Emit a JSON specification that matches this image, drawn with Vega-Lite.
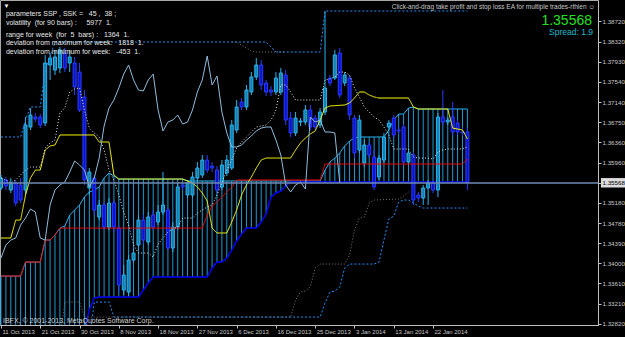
{
"$schema":"https://vega.github.io/schema/vega-lite/v6.json",
"width":598,"height":325,"autosize":"none",
"padding":{"left":0,"top":0,"right":27,"bottom":12},
"background":"#000000",
"config":{"view":{"stroke":"#a8a8a8","strokeWidth":1},"text":{"font":"Liberation Sans"},
 "axis":{"grid":false,"titleFontSize":0,"labelOverlap":false,"labelFont":"Liberation Sans"},
 "scale":{"continuousPadding":0}},
"datasets":{
"bars":[
{"i":0,"o":1.35468,"h":1.35721,"l":1.35429,"c":1.35662,"ct":1.33753,"cb":1.32507,"wd":1.35662,"ch":1.34104},
{"i":1,"o":1.35624,"h":1.35682,"l":1.35429,"c":1.35507,"ct":1.33753,"cb":1.32507,"wd":1.35624,"ch":1.34358},
{"i":2,"o":1.35429,"h":1.35662,"l":1.35371,"c":1.35566,"ct":1.33753,"cb":1.32507,"wd":1.35566,"ch":1.34455},
{"i":3,"o":1.35566,"h":1.35624,"l":1.35117,"c":1.35176,"ct":1.33753,"cb":1.32507,"wd":1.35624,"ch":1.34494},
{"i":4,"o":1.35527,"h":1.35662,"l":1.35176,"c":1.35234,"ct":1.33753,"cb":1.32507,"wd":1.35721,"ch":1.34747},
{"i":5,"o":1.35429,"h":1.36851,"l":1.35332,"c":1.36695,"ct":1.34026,"cb":1.32507,"wd":1.35818,"ch":1.34883},
{"i":6,"o":1.36656,"h":1.37026,"l":1.36598,"c":1.36890,"ct":1.34026,"cb":1.32507,"wd":1.35877,"ch":1.35059},
{"i":7,"o":1.36851,"h":1.36929,"l":1.36753,"c":1.36812,"ct":1.34026,"cb":1.32507,"wd":1.35877,"ch":1.35000},
{"i":8,"o":1.36851,"h":1.36909,"l":1.36636,"c":1.36695,"ct":1.34026,"cb":1.32507,"wd":1.35877,"ch":1.34494},
{"i":9,"o":1.36734,"h":1.38059,"l":1.36675,"c":1.37903,"ct":1.34455,"cb":1.32507,"wd":1.36247,"ch":1.34455},
{"i":10,"o":1.37864,"h":1.38098,"l":1.37572,"c":1.38000,"ct":1.34455,"cb":1.32507,"wd":1.36345,"ch":1.35137},
{"i":11,"o":1.37766,"h":1.38156,"l":1.37669,"c":1.38020,"ct":1.34553,"cb":1.32507,"wd":1.36403,"ch":1.35429},
{"i":12,"o":1.37805,"h":1.38215,"l":1.37708,"c":1.38156,"ct":1.34688,"cb":1.32507,"wd":1.36929,"ch":1.35527},
{"i":13,"o":1.38098,"h":1.38195,"l":1.37727,"c":1.37805,"ct":1.34727,"cb":1.32507,"wd":1.37026,"ch":1.35585},
{"i":14,"o":1.37903,"h":1.38156,"l":1.37727,"c":1.38020,"ct":1.34942,"cb":1.32507,"wd":1.37338,"ch":1.35779},
{"i":15,"o":1.37903,"h":1.38020,"l":1.37280,"c":1.37436,"ct":1.35039,"cb":1.32507,"wd":1.37397,"ch":1.35994},
{"i":16,"o":1.37727,"h":1.37903,"l":1.36948,"c":1.36987,"ct":1.35137,"cb":1.32507,"wd":1.37416,"ch":1.35916},
{"i":17,"o":1.37241,"h":1.37377,"l":1.35527,"c":1.35624,"ct":1.35293,"cb":1.32702,"wd":1.36987,"ch":1.35818},
{"i":18,"o":1.35468,"h":1.35857,"l":1.35332,"c":1.35779,"ct":1.35390,"cb":1.33091,"wd":1.36636,"ch":1.35488},
{"i":19,"o":1.35662,"h":1.35721,"l":1.34942,"c":1.35039,"ct":1.35429,"cb":1.33325,"wd":1.36540,"ch":1.35662},
{"i":20,"o":1.34903,"h":1.35234,"l":1.34844,"c":1.35137,"ct":1.35488,"cb":1.33344,"wd":1.36462,"ch":1.36052},
{"i":21,"o":1.35137,"h":1.35195,"l":1.34650,"c":1.34708,"ct":1.35662,"cb":1.33344,"wd":1.36208,"ch":1.36675},
{"i":22,"o":1.34708,"h":1.35273,"l":1.34650,"c":1.35176,"ct":1.35760,"cb":1.33344,"wd":1.35818,"ch":1.37026},
{"i":23,"o":1.35176,"h":1.35234,"l":1.34611,"c":1.34708,"ct":1.35701,"cb":1.33344,"wd":1.35624,"ch":1.37182},
{"i":24,"o":1.34688,"h":1.34747,"l":1.33442,"c":1.33579,"ct":1.35643,"cb":1.33344,"wd":1.35332,"ch":1.37416},
{"i":25,"o":1.33481,"h":1.33968,"l":1.33384,"c":1.33773,"ct":1.35643,"cb":1.33344,"wd":1.35000,"ch":1.37688},
{"i":26,"o":1.33442,"h":1.34163,"l":1.33364,"c":1.34065,"ct":1.35643,"cb":1.33344,"wd":1.34747,"ch":1.37864},
{"i":27,"o":1.34065,"h":1.34299,"l":1.34007,"c":1.34202,"ct":1.35643,"cb":1.33344,"wd":1.34358,"ch":1.37572},
{"i":28,"o":1.34358,"h":1.34942,"l":1.34260,"c":1.34844,"ct":1.35643,"cb":1.33344,"wd":1.34202,"ch":1.37377},
{"i":29,"o":1.34844,"h":1.34942,"l":1.34377,"c":1.34455,"ct":1.35643,"cb":1.33481,"wd":1.34202,"ch":1.37358},
{"i":30,"o":1.34416,"h":1.35000,"l":1.34358,"c":1.34903,"ct":1.35643,"cb":1.33618,"wd":1.34202,"ch":1.37572},
{"i":31,"o":1.34942,"h":1.35039,"l":1.34650,"c":1.34708,"ct":1.35643,"cb":1.33734,"wd":1.34124,"ch":1.37688},
{"i":32,"o":1.34805,"h":1.35137,"l":1.34747,"c":1.35000,"ct":1.35643,"cb":1.33734,"wd":1.34377,"ch":1.36987},
{"i":33,"o":1.35000,"h":1.35779,"l":1.34942,"c":1.35137,"ct":1.35643,"cb":1.33734,"wd":1.34494,"ch":1.36579},
{"i":34,"o":1.35039,"h":1.35098,"l":1.34260,"c":1.34299,"ct":1.35643,"cb":1.33734,"wd":1.34611,"ch":1.36753},
{"i":35,"o":1.34299,"h":1.34805,"l":1.34221,"c":1.34708,"ct":1.35643,"cb":1.33734,"wd":1.34669,"ch":1.36792},
{"i":36,"o":1.34708,"h":1.35566,"l":1.34650,"c":1.35488,"ct":1.35643,"cb":1.33734,"wd":1.34708,"ch":1.36890},
{"i":37,"o":1.35527,"h":1.35585,"l":1.35429,"c":1.35488,"ct":1.35643,"cb":1.33734,"wd":1.34883,"ch":1.36714},
{"i":38,"o":1.35332,"h":1.35624,"l":1.35273,"c":1.35566,"ct":1.35605,"cb":1.33734,"wd":1.34883,"ch":1.36753},
{"i":39,"o":1.35332,"h":1.35779,"l":1.35273,"c":1.35682,"ct":1.35605,"cb":1.33734,"wd":1.34883,"ch":1.36987},
{"i":40,"o":1.35662,"h":1.35974,"l":1.35585,"c":1.35857,"ct":1.35605,"cb":1.33734,"wd":1.34981,"ch":1.37338},
{"i":41,"o":1.35721,"h":1.36111,"l":1.35662,"c":1.36013,"ct":1.35605,"cb":1.33734,"wd":1.35039,"ch":1.37572},
{"i":42,"o":1.36013,"h":1.36111,"l":1.35760,"c":1.35818,"ct":1.35605,"cb":1.33734,"wd":1.35098,"ch":1.38039},
{"i":43,"o":1.35896,"h":1.35974,"l":1.35779,"c":1.35857,"ct":1.35605,"cb":1.33909,"wd":1.35137,"ch":1.37475},
{"i":44,"o":1.35818,"h":1.35896,"l":1.35371,"c":1.35429,"ct":1.35605,"cb":1.34026,"wd":1.35332,"ch":1.37649},
{"i":45,"o":1.35488,"h":1.36013,"l":1.35429,"c":1.35916,"ct":1.35605,"cb":1.34026,"wd":1.35566,"ch":1.36948},
{"i":46,"o":1.35760,"h":1.36111,"l":1.35701,"c":1.36013,"ct":1.35605,"cb":1.34104,"wd":1.35818,"ch":1.36540},
{"i":47,"o":1.35857,"h":1.36792,"l":1.35818,"c":1.36695,"ct":1.35605,"cb":1.34260,"wd":1.36013,"ch":1.36267},
{"i":48,"o":1.36598,"h":1.37182,"l":1.36540,"c":1.37046,"ct":1.35605,"cb":1.34436,"wd":1.36247,"ch":1.36267},
{"i":49,"o":1.37143,"h":1.37221,"l":1.36987,"c":1.37046,"ct":1.35605,"cb":1.34572,"wd":1.36364,"ch":1.36306},
{"i":50,"o":1.37046,"h":1.37475,"l":1.36987,"c":1.37377,"ct":1.35605,"cb":1.34688,"wd":1.36462,"ch":1.36403},
{"i":51,"o":1.37338,"h":1.37727,"l":1.37280,"c":1.37630,"ct":1.35605,"cb":1.34688,"wd":1.36559,"ch":1.36481},
{"i":52,"o":1.37630,"h":1.38000,"l":1.37572,"c":1.37864,"ct":1.35605,"cb":1.34688,"wd":1.36656,"ch":1.36579},
{"i":53,"o":1.37864,"h":1.37961,"l":1.37377,"c":1.37475,"ct":1.35605,"cb":1.34805,"wd":1.36675,"ch":1.36636},
{"i":54,"o":1.37514,"h":1.37572,"l":1.37260,"c":1.37338,"ct":1.35605,"cb":1.34961,"wd":1.36695,"ch":1.36656},
{"i":55,"o":1.37377,"h":1.37455,"l":1.37260,"c":1.37338,"ct":1.35605,"cb":1.35293,"wd":1.36792,"ch":1.36656},
{"i":56,"o":1.37338,"h":1.37727,"l":1.37280,"c":1.37610,"ct":1.35605,"cb":1.35371,"wd":1.36987,"ch":1.36403},
{"i":57,"o":1.37338,"h":1.37805,"l":1.37280,"c":1.37708,"ct":1.35605,"cb":1.35410,"wd":1.37475,"ch":1.36111},
{"i":58,"o":1.37669,"h":1.37766,"l":1.36695,"c":1.36792,"ct":1.35605,"cb":1.35507,"wd":1.37475,"ch":1.35527},
{"i":59,"o":1.36831,"h":1.36948,"l":1.36462,"c":1.36540,"ct":1.35605,"cb":1.35585,"wd":1.37338,"ch":1.35390},
{"i":60,"o":1.36540,"h":1.36948,"l":1.36481,"c":1.36831,"ct":1.35605,"cb":1.35585,"wd":1.37182,"ch":1.35527},
{"i":61,"o":1.36753,"h":1.36831,"l":1.36675,"c":1.36773,"ct":1.35605,"cb":1.35585,"wd":1.37182,"ch":1.35585},
{"i":62,"o":1.36753,"h":1.37085,"l":1.36695,"c":1.36987,"ct":1.35605,"cb":1.35585,"wd":1.37182,"ch":1.35449},
{"i":63,"o":1.36987,"h":1.37085,"l":1.36598,"c":1.36656,"ct":1.35605,"cb":1.35585,"wd":1.37182,"ch":1.36851},
{"i":64,"o":1.36831,"h":1.36890,"l":1.36598,"c":1.36656,"ct":1.35605,"cb":1.35585,"wd":1.37182,"ch":1.36753},
{"i":65,"o":1.36695,"h":1.37026,"l":1.36636,"c":1.36948,"ct":1.35605,"cb":1.35585,"wd":1.37182,"ch":1.36792},
{"i":66,"o":1.36948,"h":1.38916,"l":1.36890,"c":1.37416,"ct":1.35818,"cb":1.35585,"wd":1.37572,"ch":1.36559},
{"i":67,"o":1.37610,"h":1.37669,"l":1.37455,"c":1.37514,"ct":1.35974,"cb":1.35585,"wd":1.37591,"ch":1.36559},
{"i":68,"o":1.37610,"h":1.38156,"l":1.37572,"c":1.38059,"ct":1.36052,"cb":1.35585,"wd":1.37630,"ch":1.36540},
{"i":69,"o":1.38098,"h":1.38195,"l":1.37221,"c":1.37280,"ct":1.36150,"cb":1.35585,"wd":1.37727,"ch":1.35568},
{"i":70,"o":1.37514,"h":1.37727,"l":1.37455,"c":1.37669,"ct":1.36286,"cb":1.35585,"wd":1.37727},
{"i":71,"o":1.37610,"h":1.37669,"l":1.36792,"c":1.36890,"ct":1.36384,"cb":1.35585,"wd":1.37669},
{"i":72,"o":1.36831,"h":1.36890,"l":1.36052,"c":1.36150,"ct":1.36442,"cb":1.35585,"wd":1.37416},
{"i":73,"o":1.36208,"h":1.36890,"l":1.36150,"c":1.36792,"ct":1.36462,"cb":1.35585,"wd":1.37241},
{"i":74,"o":1.35955,"h":1.36403,"l":1.35877,"c":1.36306,"ct":1.36462,"cb":1.35585,"wd":1.37046},
{"i":75,"o":1.36306,"h":1.36364,"l":1.36052,"c":1.36111,"ct":1.36462,"cb":1.35585,"wd":1.36948},
{"i":76,"o":1.36072,"h":1.36208,"l":1.35429,"c":1.35488,"ct":1.36462,"cb":1.35585,"wd":1.36851},
{"i":77,"o":1.35682,"h":1.36111,"l":1.35624,"c":1.36052,"ct":1.36462,"cb":1.35585,"wd":1.36792},
{"i":78,"o":1.36013,"h":1.36540,"l":1.35955,"c":1.36462,"ct":1.36462,"cb":1.35585,"wd":1.36656},
{"i":79,"o":1.36656,"h":1.36792,"l":1.36598,"c":1.36734,"ct":1.36598,"cb":1.35585,"wd":1.36501},
{"i":80,"o":1.36831,"h":1.36890,"l":1.36442,"c":1.36501,"ct":1.36792,"cb":1.35585,"wd":1.36228},
{"i":81,"o":1.36598,"h":1.36656,"l":1.36520,"c":1.36579,"ct":1.36909,"cb":1.35585,"wd":1.36228},
{"i":82,"o":1.36656,"h":1.36714,"l":1.35916,"c":1.35974,"ct":1.36909,"cb":1.35585,"wd":1.36228},
{"i":83,"o":1.35974,"h":1.36208,"l":1.35916,"c":1.36150,"ct":1.37026,"cb":1.35585,"wd":1.36228},
{"i":84,"o":1.36111,"h":1.36169,"l":1.35137,"c":1.35234,"ct":1.37046,"cb":1.35585,"wd":1.36072},
{"i":85,"o":1.35332,"h":1.35390,"l":1.35195,"c":1.35273,"ct":1.37007,"cb":1.35585,"wd":1.36052},
{"i":86,"o":1.35273,"h":1.35527,"l":1.35137,"c":1.35468,"ct":1.37007,"cb":1.35585,"wd":1.36052},
{"i":87,"o":1.35468,"h":1.35624,"l":1.35137,"c":1.35566,"ct":1.37007,"cb":1.35585,"wd":1.36052},
{"i":88,"o":1.35566,"h":1.35624,"l":1.35371,"c":1.35429,"ct":1.37007,"cb":1.35585,"wd":1.36033},
{"i":89,"o":1.35429,"h":1.36929,"l":1.35293,"c":1.36851,"ct":1.37007,"cb":1.35585,"wd":1.36169},
{"i":90,"o":1.36851,"h":1.37377,"l":1.36695,"c":1.36753,"ct":1.37007,"cb":1.35585,"wd":1.36208},
{"i":91,"o":1.36753,"h":1.36851,"l":1.36695,"c":1.36792,"ct":1.37007,"cb":1.35585,"wd":1.36228},
{"i":92,"o":1.36851,"h":1.37143,"l":1.36501,"c":1.36559,"ct":1.37007,"cb":1.35585,"wd":1.36228},
{"i":93,"o":1.36734,"h":1.36792,"l":1.36501,"c":1.36559,"ct":1.37007,"cb":1.35585,"wd":1.36228},
{"i":94,"o":1.36559,"h":1.36636,"l":1.36481,"c":1.36540,"ct":1.37007,"cb":1.35585,"wd":1.36228},
{"i":95,"o":1.36559,"h":1.36636,"l":1.35429,"c":1.35568,"ct":1.37007,"cb":1.35585,"wd":1.36267}
],
"lines":[
{"s":"lb","i":18,"v":1.32507},{"s":"lb","i":19,"v":1.33247},{"s":"lb","i":22,"v":1.33247},{"s":"lb","i":23,"v":1.32955},{"s":"lb","i":65,"v":1.32955},{"s":"lb","i":66,"v":1.33228},{"s":"lb","i":67,"v":1.33442},{"s":"lb","i":68,"v":1.33462},{"s":"lb","i":69,"v":1.33540},{"s":"lb","i":70,"v":1.33909},{"s":"lb","i":71,"v":1.33987},{"s":"lb","i":76,"v":1.33987},{"s":"lb","i":77,"v":1.34026},{"s":"lb","i":78,"v":1.34455},{"s":"lb","i":79,"v":1.34864},{"s":"lb","i":80,"v":1.34922},{"s":"lb","i":81,"v":1.35195},{"s":"lb","i":82,"v":1.35234},{"s":"lb","i":83,"v":1.35234},{"s":"lb","i":84,"v":1.35176},{"s":"lb","i":85,"v":1.35117},{"s":"lb","i":86,"v":1.35078},{"s":"lb","i":95,"v":1.35078},
{"s":"lg","i":12,"v":1.32507},{"s":"lg","i":13,"v":1.33247},{"s":"lg","i":16,"v":1.33247},{"s":"lg","i":17,"v":1.32955},{"s":"lg","i":59,"v":1.32955},{"s":"lg","i":60,"v":1.33286},{"s":"lg","i":61,"v":1.33442},{"s":"lg","i":62,"v":1.33462},{"s":"lg","i":63,"v":1.33540},{"s":"lg","i":64,"v":1.33909},{"s":"lg","i":65,"v":1.33987},{"s":"lg","i":70,"v":1.33987},{"s":"lg","i":71,"v":1.34163},{"s":"lg","i":72,"v":1.34650},{"s":"lg","i":73,"v":1.34883},{"s":"lg","i":74,"v":1.34903},{"s":"lg","i":75,"v":1.35176},{"s":"lg","i":76,"v":1.35234},{"s":"lg","i":81,"v":1.35254},{"s":"lg","i":82,"v":1.35312},{"s":"lg","i":83,"v":1.35390},
{"s":"ub","i":0,"v":1.36462},{"s":"ub","i":4,"v":1.36462},{"s":"ub","i":5,"v":1.36792},{"s":"ub","i":6,"v":1.37046},{"s":"ub","i":8,"v":1.37046},{"s":"ub","i":9,"v":1.37766},{"s":"ub","i":10,"v":1.38020},{"s":"ub","i":11,"v":1.38312},{"s":"ub","i":54,"v":1.38312},{"s":"ub","i":55,"v":1.38215},{"s":"ub","i":56,"v":1.38117},{"s":"ub","i":65,"v":1.38117},{"s":"ub","i":66,"v":1.38916},{"s":"ub","i":95,"v":1.38916},
{"s":"ug","i":47,"v":1.38312},{"s":"ug","i":48,"v":1.38312},{"s":"ug","i":49,"v":1.38254},{"s":"ug","i":50,"v":1.38195},{"s":"ug","i":51,"v":1.38137},{"s":"ug","i":52,"v":1.38117},{"s":"ug","i":58,"v":1.38117},
{"s":"re","i":0,"v":1.33753},{"s":"re","i":4,"v":1.33753},{"s":"re","i":5,"v":1.34026},{"s":"re","i":8,"v":1.34026},{"s":"re","i":9,"v":1.34455},{"s":"re","i":10,"v":1.34455},{"s":"re","i":11,"v":1.34553},{"s":"re","i":12,"v":1.34688},{"s":"re","i":41,"v":1.34688},{"s":"re","i":42,"v":1.34942},{"s":"re","i":43,"v":1.35117},{"s":"re","i":44,"v":1.35195},{"s":"re","i":45,"v":1.35293},{"s":"re","i":46,"v":1.35390},{"s":"re","i":47,"v":1.35488},{"s":"re","i":48,"v":1.35624},{"s":"re","i":65,"v":1.35624},{"s":"re","i":66,"v":1.35935},{"s":"re","i":94,"v":1.35935},{"s":"re","i":95,"v":1.36033},
{"s":"ye","i":0,"v":1.34494},{"s":"ye","i":2,"v":1.34494},{"s":"ye","i":3,"v":1.34844},{"s":"ye","i":4,"v":1.34844},{"s":"ye","i":5,"v":1.35332},{"s":"ye","i":6,"v":1.35662},{"s":"ye","i":7,"v":1.35818},{"s":"ye","i":8,"v":1.35818},{"s":"ye","i":9,"v":1.36208},{"s":"ye","i":10,"v":1.36286},{"s":"ye","i":11,"v":1.36306},{"s":"ye","i":12,"v":1.36501},{"s":"ye","i":19,"v":1.36501},{"s":"ye","i":20,"v":1.36364},{"s":"ye","i":22,"v":1.36364},{"s":"ye","i":23,"v":1.35721},{"s":"ye","i":24,"v":1.35643},{"s":"ye","i":37,"v":1.35643},{"s":"ye","i":38,"v":1.35605},{"s":"ye","i":39,"v":1.35566},{"s":"ye","i":40,"v":1.35488},{"s":"ye","i":41,"v":1.35371},{"s":"ye","i":42,"v":1.35215},{"s":"ye","i":43,"v":1.34688},{"s":"ye","i":44,"v":1.34592},{"s":"ye","i":46,"v":1.34592},{"s":"ye","i":47,"v":1.34805},{"s":"ye","i":48,"v":1.35039},{"s":"ye","i":49,"v":1.35332},{"s":"ye","i":50,"v":1.35527},{"s":"ye","i":51,"v":1.35682},{"s":"ye","i":52,"v":1.35857},{"s":"ye","i":53,"v":1.36013},{"s":"ye","i":54,"v":1.36052},{"s":"ye","i":59,"v":1.36052},{"s":"ye","i":60,"v":1.36208},{"s":"ye","i":61,"v":1.36345},{"s":"ye","i":62,"v":1.36442},{"s":"ye","i":63,"v":1.36520},{"s":"ye","i":64,"v":1.36579},{"s":"ye","i":65,"v":1.36792},{"s":"ye","i":66,"v":1.37026},{"s":"ye","i":67,"v":1.37065},{"s":"ye","i":70,"v":1.37085},{"s":"ye","i":71,"v":1.37124},{"s":"ye","i":72,"v":1.37221},{"s":"ye","i":73,"v":1.37338},{"s":"ye","i":74,"v":1.37338},{"s":"ye","i":75,"v":1.37280},{"s":"ye","i":76,"v":1.37241},{"s":"ye","i":77,"v":1.37221},{"s":"ye","i":83,"v":1.37221},{"s":"ye","i":84,"v":1.37046},{"s":"ye","i":85,"v":1.37007},{"s":"ye","i":91,"v":1.37007},{"s":"ye","i":92,"v":1.36636},{"s":"ye","i":94,"v":1.36598},{"s":"ye","i":95,"v":1.36423},
{"s":"yo","i":73,"v":1.37338},{"s":"yo","i":74,"v":1.37338},{"s":"yo","i":75,"v":1.37280},{"s":"yo","i":76,"v":1.37241},{"s":"yo","i":77,"v":1.37221},{"s":"yo","i":83,"v":1.37221}
]},
"layer":[
{"data":{"name":"bars"},"mark":{"type":"rule","clip":true,"color":"#1c9ad6","strokeWidth":1},
 "encoding":{
  "x":{"field":"i","type":"quantitative","title":null,"scale":{"domain":[-0.2,121.6],"nice":false,"zero":false,"padding":0},
   "axis":{"orient":"bottom","zindex":1,"title":null,"grid":false,"values":[0,8,16,24,32,40,48,56,64,72,80,88],"labelExpr":"['11 Oct 2013','21 Oct 2013','30 Oct 2013','8 Nov 2013','18 Nov 2013','27 Nov 2013','6 Dec 2013','16 Dec 2013','25 Dec 2013','3 Jan 2014','13 Jan 2014','22 Jan 2014'][round(datum.value/8)]","labelAlign":"left","labelBaseline":"top","labelPadding":0,"labelOffset":1,"tickSize":3,"labelFontSize":6,"labelColor":"#c8c8c8","tickColor":"#c0c0c0","domainColor":"#c0c0c0","labelFlush":false,"labelOverlap":false,"labelBound":false}},
  "y":{"field":"ct","type":"quantitative","title":null,"scale":{"domain":[1.328,1.3913],"nice":false,"zero":false,"padding":0},
   "axis":{"orient":"right","zindex":1,"title":null,"grid":false,"values":[1.3872,1.3832,1.3793,1.3754,1.3714,1.3675,1.3636,1.3596,1.35568,1.3518,1.3478,1.3439,1.34,1.3361,1.3321,1.3282],"format":".5f","labelFontSize":6.2,"labelBaseline":"middle","labelOverlap":false,"labelFlush":false,"labelBound":false,"labelPadding":1,"tickSize":3,"domainColor":"#c0c0c0","tickColor":"#c0c0c0","labelColor":{"condition":{"test":"abs(datum.value-1.35568)<0.000001","value":"#000000"},"value":"#c8c8c8"}}},
  "y2":{"field":"cb"}}},
{"data":{"name":"bars"},"mark":{"type":"line","clip":true,"color":"#2ab4f0","strokeWidth":1},
 "encoding":{
  "x":{"field":"i","type":"quantitative","title":null,"scale":{"domain":[-0.2,121.6],"nice":false,"zero":false,"padding":0},
   "axis":{"orient":"bottom","zindex":1,"title":null,"grid":false,"values":[0,8,16,24,32,40,48,56,64,72,80,88],"labelExpr":"['11 Oct 2013','21 Oct 2013','30 Oct 2013','8 Nov 2013','18 Nov 2013','27 Nov 2013','6 Dec 2013','16 Dec 2013','25 Dec 2013','3 Jan 2014','13 Jan 2014','22 Jan 2014'][round(datum.value/8)]","labelAlign":"left","labelBaseline":"top","labelPadding":0,"labelOffset":1,"tickSize":3,"labelFontSize":6,"labelColor":"#c8c8c8","tickColor":"#c0c0c0","domainColor":"#c0c0c0","labelFlush":false,"labelOverlap":false,"labelBound":false}},
  "y":{"field":"ct","type":"quantitative","title":null,"scale":{"domain":[1.328,1.3913],"nice":false,"zero":false,"padding":0},
   "axis":{"orient":"right","zindex":1,"title":null,"grid":false,"values":[1.3872,1.3832,1.3793,1.3754,1.3714,1.3675,1.3636,1.3596,1.35568,1.3518,1.3478,1.3439,1.34,1.3361,1.3321,1.3282],"format":".5f","labelFontSize":6.2,"labelBaseline":"middle","labelOverlap":false,"labelFlush":false,"labelBound":false,"labelPadding":1,"tickSize":3,"domainColor":"#c0c0c0","tickColor":"#c0c0c0","labelColor":{"condition":{"test":"abs(datum.value-1.35568)<0.000001","value":"#000000"},"value":"#c8c8c8"}}}}},
{"data":{"name":"bars"},"mark":{"type":"line","clip":true,"color":"#0000ff","strokeWidth":1.5},
 "encoding":{
  "x":{"field":"i","type":"quantitative","title":null,"scale":{"domain":[-0.2,121.6],"nice":false,"zero":false,"padding":0},
   "axis":{"orient":"bottom","zindex":1,"title":null,"grid":false,"values":[0,8,16,24,32,40,48,56,64,72,80,88],"labelExpr":"['11 Oct 2013','21 Oct 2013','30 Oct 2013','8 Nov 2013','18 Nov 2013','27 Nov 2013','6 Dec 2013','16 Dec 2013','25 Dec 2013','3 Jan 2014','13 Jan 2014','22 Jan 2014'][round(datum.value/8)]","labelAlign":"left","labelBaseline":"top","labelPadding":0,"labelOffset":1,"tickSize":3,"labelFontSize":6,"labelColor":"#c8c8c8","tickColor":"#c0c0c0","domainColor":"#c0c0c0","labelFlush":false,"labelOverlap":false,"labelBound":false}},
  "y":{"field":"cb","type":"quantitative","title":null,"scale":{"domain":[1.328,1.3913],"nice":false,"zero":false,"padding":0},
   "axis":{"orient":"right","zindex":1,"title":null,"grid":false,"values":[1.3872,1.3832,1.3793,1.3754,1.3714,1.3675,1.3636,1.3596,1.35568,1.3518,1.3478,1.3439,1.34,1.3361,1.3321,1.3282],"format":".5f","labelFontSize":6.2,"labelBaseline":"middle","labelOverlap":false,"labelFlush":false,"labelBound":false,"labelPadding":1,"tickSize":3,"domainColor":"#c0c0c0","tickColor":"#c0c0c0","labelColor":{"condition":{"test":"abs(datum.value-1.35568)<0.000001","value":"#000000"},"value":"#c8c8c8"}}}}},
{"data":{"name":"bars"},"mark":{"type":"rule","clip":true,"strokeWidth":1},
 "encoding":{
  "x":{"field":"i","type":"quantitative","title":null,"scale":{"domain":[-0.2,121.6],"nice":false,"zero":false,"padding":0},
   "axis":{"orient":"bottom","zindex":1,"title":null,"grid":false,"values":[0,8,16,24,32,40,48,56,64,72,80,88],"labelExpr":"['11 Oct 2013','21 Oct 2013','30 Oct 2013','8 Nov 2013','18 Nov 2013','27 Nov 2013','6 Dec 2013','16 Dec 2013','25 Dec 2013','3 Jan 2014','13 Jan 2014','22 Jan 2014'][round(datum.value/8)]","labelAlign":"left","labelBaseline":"top","labelPadding":0,"labelOffset":1,"tickSize":3,"labelFontSize":6,"labelColor":"#c8c8c8","tickColor":"#c0c0c0","domainColor":"#c0c0c0","labelFlush":false,"labelOverlap":false,"labelBound":false}},
  "y":{"field":"l","type":"quantitative","title":null,"scale":{"domain":[1.328,1.3913],"nice":false,"zero":false,"padding":0},
   "axis":{"orient":"right","zindex":1,"title":null,"grid":false,"values":[1.3872,1.3832,1.3793,1.3754,1.3714,1.3675,1.3636,1.3596,1.35568,1.3518,1.3478,1.3439,1.34,1.3361,1.3321,1.3282],"format":".5f","labelFontSize":6.2,"labelBaseline":"middle","labelOverlap":false,"labelFlush":false,"labelBound":false,"labelPadding":1,"tickSize":3,"domainColor":"#c0c0c0","tickColor":"#c0c0c0","labelColor":{"condition":{"test":"abs(datum.value-1.35568)<0.000001","value":"#000000"},"value":"#c8c8c8"}}},
  "y2":{"field":"h"},
  "color":{"condition":{"test":"datum.c >= datum.o","value":"#28b4f0"},"value":"#2a3cff"}}},
{"data":{"name":"bars"},"mark":{"type":"bar","clip":true,"size":3,"strokeWidth":1},
 "encoding":{
  "x":{"field":"i","type":"quantitative","title":null,"scale":{"domain":[-0.2,121.6],"nice":false,"zero":false,"padding":0},
   "axis":{"orient":"bottom","zindex":1,"title":null,"grid":false,"values":[0,8,16,24,32,40,48,56,64,72,80,88],"labelExpr":"['11 Oct 2013','21 Oct 2013','30 Oct 2013','8 Nov 2013','18 Nov 2013','27 Nov 2013','6 Dec 2013','16 Dec 2013','25 Dec 2013','3 Jan 2014','13 Jan 2014','22 Jan 2014'][round(datum.value/8)]","labelAlign":"left","labelBaseline":"top","labelPadding":0,"labelOffset":1,"tickSize":3,"labelFontSize":6,"labelColor":"#c8c8c8","tickColor":"#c0c0c0","domainColor":"#c0c0c0","labelFlush":false,"labelOverlap":false,"labelBound":false}},
  "y":{"field":"o","type":"quantitative","title":null,"scale":{"domain":[1.328,1.3913],"nice":false,"zero":false,"padding":0},
   "axis":{"orient":"right","zindex":1,"title":null,"grid":false,"values":[1.3872,1.3832,1.3793,1.3754,1.3714,1.3675,1.3636,1.3596,1.35568,1.3518,1.3478,1.3439,1.34,1.3361,1.3321,1.3282],"format":".5f","labelFontSize":6.2,"labelBaseline":"middle","labelOverlap":false,"labelFlush":false,"labelBound":false,"labelPadding":1,"tickSize":3,"domainColor":"#c0c0c0","tickColor":"#c0c0c0","labelColor":{"condition":{"test":"abs(datum.value-1.35568)<0.000001","value":"#000000"},"value":"#c8c8c8"}}},
  "y2":{"field":"c"},
  "fill":{"condition":{"test":"datum.c >= datum.o","value":"#157fb0"},"value":"#0a14d0"},
  "stroke":{"condition":{"test":"datum.c >= datum.o","value":"#2ab4f0"},"value":"#2a3cff"}}},
{"data":{"name":"lines"},"mark":{"type":"line","clip":true,"strokeCap":"butt"},
 "encoding":{
  "x":{"field":"i","type":"quantitative","title":null,"scale":{"domain":[-0.2,121.6],"nice":false,"zero":false,"padding":0},
   "axis":{"orient":"bottom","zindex":1,"title":null,"grid":false,"values":[0,8,16,24,32,40,48,56,64,72,80,88],"labelExpr":"['11 Oct 2013','21 Oct 2013','30 Oct 2013','8 Nov 2013','18 Nov 2013','27 Nov 2013','6 Dec 2013','16 Dec 2013','25 Dec 2013','3 Jan 2014','13 Jan 2014','22 Jan 2014'][round(datum.value/8)]","labelAlign":"left","labelBaseline":"top","labelPadding":0,"labelOffset":1,"tickSize":3,"labelFontSize":6,"labelColor":"#c8c8c8","tickColor":"#c0c0c0","domainColor":"#c0c0c0","labelFlush":false,"labelOverlap":false,"labelBound":false}},
  "y":{"field":"v","type":"quantitative","title":null,"scale":{"domain":[1.328,1.3913],"nice":false,"zero":false,"padding":0},
   "axis":{"orient":"right","zindex":1,"title":null,"grid":false,"values":[1.3872,1.3832,1.3793,1.3754,1.3714,1.3675,1.3636,1.3596,1.35568,1.3518,1.3478,1.3439,1.34,1.3361,1.3321,1.3282],"format":".5f","labelFontSize":6.2,"labelBaseline":"middle","labelOverlap":false,"labelFlush":false,"labelBound":false,"labelPadding":1,"tickSize":3,"domainColor":"#c0c0c0","tickColor":"#c0c0c0","labelColor":{"condition":{"test":"abs(datum.value-1.35568)<0.000001","value":"#000000"},"value":"#c8c8c8"}}},
  "color":{"field":"s","type":"nominal","legend":null,"scale":{"domain":["lb","lg","ub","ug","re","ye","yo"],"range":["#1e90ff","#7a7a7a","#1e90ff","#7a7a7a","#ff0000","#ffff00","#8c8c00"]}},
  "strokeDash":{"field":"s","type":"nominal","legend":null,"scale":{"domain":["lb","lg","ub","ug","re","ye","yo"],"range":[[2,2],[1,2],[2,2],[1,2],[1,0],[1,0],[1,0]]}},
  "strokeWidth":{"field":"s","type":"ordinal","legend":null,"scale":{"domain":["lb","lg","ub","ug","re","ye","yo"],"range":[1,1,1,1,1.5,1.5,1.5]}}}},
{"data":{"name":"bars"},"mark":{"type":"line","clip":true,"color":"#e8e8e8","strokeWidth":1,"strokeDash":[1,2]},
 "encoding":{
  "x":{"field":"i","type":"quantitative","title":null,"scale":{"domain":[-0.2,121.6],"nice":false,"zero":false,"padding":0},
   "axis":{"orient":"bottom","zindex":1,"title":null,"grid":false,"values":[0,8,16,24,32,40,48,56,64,72,80,88],"labelExpr":"['11 Oct 2013','21 Oct 2013','30 Oct 2013','8 Nov 2013','18 Nov 2013','27 Nov 2013','6 Dec 2013','16 Dec 2013','25 Dec 2013','3 Jan 2014','13 Jan 2014','22 Jan 2014'][round(datum.value/8)]","labelAlign":"left","labelBaseline":"top","labelPadding":0,"labelOffset":1,"tickSize":3,"labelFontSize":6,"labelColor":"#c8c8c8","tickColor":"#c0c0c0","domainColor":"#c0c0c0","labelFlush":false,"labelOverlap":false,"labelBound":false}},
  "y":{"field":"wd","type":"quantitative","title":null,"scale":{"domain":[1.328,1.3913],"nice":false,"zero":false,"padding":0},
   "axis":{"orient":"right","zindex":1,"title":null,"grid":false,"values":[1.3872,1.3832,1.3793,1.3754,1.3714,1.3675,1.3636,1.3596,1.35568,1.3518,1.3478,1.3439,1.34,1.3361,1.3321,1.3282],"format":".5f","labelFontSize":6.2,"labelBaseline":"middle","labelOverlap":false,"labelFlush":false,"labelBound":false,"labelPadding":1,"tickSize":3,"domainColor":"#c0c0c0","tickColor":"#c0c0c0","labelColor":{"condition":{"test":"abs(datum.value-1.35568)<0.000001","value":"#000000"},"value":"#c8c8c8"}}}}},
{"data":{"name":"bars"},"mark":{"type":"line","clip":true,"color":"#8fbcdc","strokeWidth":1},
 "encoding":{
  "x":{"field":"i","type":"quantitative","title":null,"scale":{"domain":[-0.2,121.6],"nice":false,"zero":false,"padding":0},
   "axis":{"orient":"bottom","zindex":1,"title":null,"grid":false,"values":[0,8,16,24,32,40,48,56,64,72,80,88],"labelExpr":"['11 Oct 2013','21 Oct 2013','30 Oct 2013','8 Nov 2013','18 Nov 2013','27 Nov 2013','6 Dec 2013','16 Dec 2013','25 Dec 2013','3 Jan 2014','13 Jan 2014','22 Jan 2014'][round(datum.value/8)]","labelAlign":"left","labelBaseline":"top","labelPadding":0,"labelOffset":1,"tickSize":3,"labelFontSize":6,"labelColor":"#c8c8c8","tickColor":"#c0c0c0","domainColor":"#c0c0c0","labelFlush":false,"labelOverlap":false,"labelBound":false}},
  "y":{"field":"ch","type":"quantitative","title":null,"scale":{"domain":[1.328,1.3913],"nice":false,"zero":false,"padding":0},
   "axis":{"orient":"right","zindex":1,"title":null,"grid":false,"values":[1.3872,1.3832,1.3793,1.3754,1.3714,1.3675,1.3636,1.3596,1.35568,1.3518,1.3478,1.3439,1.34,1.3361,1.3321,1.3282],"format":".5f","labelFontSize":6.2,"labelBaseline":"middle","labelOverlap":false,"labelFlush":false,"labelBound":false,"labelPadding":1,"tickSize":3,"domainColor":"#c0c0c0","tickColor":"#c0c0c0","labelColor":{"condition":{"test":"abs(datum.value-1.35568)<0.000001","value":"#000000"},"value":"#c8c8c8"}}}}},
{"data":{"values":[{}]},"mark":{"type":"rule","color":"#6f8ab4","strokeWidth":1.5},
 "encoding":{"y":{"datum":1.35568,"type":"quantitative","title":null,"scale":{"domain":[1.328,1.3913],"nice":false,"zero":false,"padding":0},
   "axis":{"orient":"right","zindex":1,"title":null,"grid":false,"values":[1.3872,1.3832,1.3793,1.3754,1.3714,1.3675,1.3636,1.3596,1.35568,1.3518,1.3478,1.3439,1.34,1.3361,1.3321,1.3282],"format":".5f","labelFontSize":6.2,"labelBaseline":"middle","labelOverlap":false,"labelFlush":false,"labelBound":false,"labelPadding":1,"tickSize":3,"domainColor":"#c0c0c0","tickColor":"#c0c0c0","labelColor":{"condition":{"test":"abs(datum.value-1.35568)<0.000001","value":"#000000"},"value":"#c8c8c8"}}}}},
{"data":{"values":[{}]},"mark":{"type":"rect","clip":false,"fill":"#dcdcdc"},
 "encoding":{
  "x":{"datum":122.2,"type":"quantitative","title":null,"scale":{"domain":[-0.2,121.6],"nice":false,"zero":false,"padding":0},
   "axis":{"orient":"bottom","zindex":1,"title":null,"grid":false,"values":[0,8,16,24,32,40,48,56,64,72,80,88],"labelExpr":"['11 Oct 2013','21 Oct 2013','30 Oct 2013','8 Nov 2013','18 Nov 2013','27 Nov 2013','6 Dec 2013','16 Dec 2013','25 Dec 2013','3 Jan 2014','13 Jan 2014','22 Jan 2014'][round(datum.value/8)]","labelAlign":"left","labelBaseline":"top","labelPadding":0,"labelOffset":1,"tickSize":3,"labelFontSize":6,"labelColor":"#c8c8c8","tickColor":"#c0c0c0","domainColor":"#c0c0c0","labelFlush":false,"labelOverlap":false,"labelBound":false}},
  "x2":{"datum":127.3},
  "y":{"datum":1.35662,"type":"quantitative","title":null,"scale":{"domain":[1.328,1.3913],"nice":false,"zero":false,"padding":0},
   "axis":{"orient":"right","zindex":1,"title":null,"grid":false,"values":[1.3872,1.3832,1.3793,1.3754,1.3714,1.3675,1.3636,1.3596,1.35568,1.3518,1.3478,1.3439,1.34,1.3361,1.3321,1.3282],"format":".5f","labelFontSize":6.2,"labelBaseline":"middle","labelOverlap":false,"labelFlush":false,"labelBound":false,"labelPadding":1,"tickSize":3,"domainColor":"#c0c0c0","tickColor":"#c0c0c0","labelColor":{"condition":{"test":"abs(datum.value-1.35568)<0.000001","value":"#000000"},"value":"#c8c8c8"}}},
  "y2":{"datum":1.35478}}},
{"data":{"values":[{}]},"mark":{"type":"text","align":"left","baseline":"middle","fontSize":7,"lineHeight":8.4,"color":"#e8e8e8",
  "text":["parameters  SSP , SSK  =\u00a0\u00a0 45 ,\u00a0 38 ;","volatility\u00a0 (for 90 bars) :\u00a0\u00a0\u00a0\u00a0 5977\u00a0 1."]},
 "encoding":{
  "x":{"datum":1.0,"type":"quantitative","title":null,"scale":{"domain":[-0.2,121.6],"nice":false,"zero":false,"padding":0},
   "axis":{"orient":"bottom","zindex":1,"title":null,"grid":false,"values":[0,8,16,24,32,40,48,56,64,72,80,88],"labelExpr":"['11 Oct 2013','21 Oct 2013','30 Oct 2013','8 Nov 2013','18 Nov 2013','27 Nov 2013','6 Dec 2013','16 Dec 2013','25 Dec 2013','3 Jan 2014','13 Jan 2014','22 Jan 2014'][round(datum.value/8)]","labelAlign":"left","labelBaseline":"top","labelPadding":0,"labelOffset":1,"tickSize":3,"labelFontSize":6,"labelColor":"#c8c8c8","tickColor":"#c0c0c0","domainColor":"#c0c0c0","labelFlush":false,"labelOverlap":false,"labelBound":false}},
  "y":{"datum":1.38851,"type":"quantitative","title":null,"scale":{"domain":[1.328,1.3913],"nice":false,"zero":false,"padding":0},
   "axis":{"orient":"right","zindex":1,"title":null,"grid":false,"values":[1.3872,1.3832,1.3793,1.3754,1.3714,1.3675,1.3636,1.3596,1.35568,1.3518,1.3478,1.3439,1.34,1.3361,1.3321,1.3282],"format":".5f","labelFontSize":6.2,"labelBaseline":"middle","labelOverlap":false,"labelFlush":false,"labelBound":false,"labelPadding":1,"tickSize":3,"domainColor":"#c0c0c0","tickColor":"#c0c0c0","labelColor":{"condition":{"test":"abs(datum.value-1.35568)<0.000001","value":"#000000"},"value":"#c8c8c8"}}}}},
{"data":{"values":[{}]},"mark":{"type":"text","align":"left","baseline":"middle","fontSize":7,"lineHeight":8.4,"color":"#e8e8e8",
  "text":["range for week\u00a0 (for\u00a0 5\u00a0 bars) :\u00a0\u00a0 1364\u00a0 1.","deviation from maximum for week:\u00a0\u00a0 1818\u00a0 1.","deviation from minimum for week:\u00a0\u00a0 -453\u00a0 1."]},
 "encoding":{
  "x":{"datum":1.0,"type":"quantitative","title":null,"scale":{"domain":[-0.2,121.6],"nice":false,"zero":false,"padding":0},
   "axis":{"orient":"bottom","zindex":1,"title":null,"grid":false,"values":[0,8,16,24,32,40,48,56,64,72,80,88],"labelExpr":"['11 Oct 2013','21 Oct 2013','30 Oct 2013','8 Nov 2013','18 Nov 2013','27 Nov 2013','6 Dec 2013','16 Dec 2013','25 Dec 2013','3 Jan 2014','13 Jan 2014','22 Jan 2014'][round(datum.value/8)]","labelAlign":"left","labelBaseline":"top","labelPadding":0,"labelOffset":1,"tickSize":3,"labelFontSize":6,"labelColor":"#c8c8c8","tickColor":"#c0c0c0","domainColor":"#c0c0c0","labelFlush":false,"labelOverlap":false,"labelBound":false}},
  "y":{"datum":1.38448,"type":"quantitative","title":null,"scale":{"domain":[1.328,1.3913],"nice":false,"zero":false,"padding":0},
   "axis":{"orient":"right","zindex":1,"title":null,"grid":false,"values":[1.3872,1.3832,1.3793,1.3754,1.3714,1.3675,1.3636,1.3596,1.35568,1.3518,1.3478,1.3439,1.34,1.3361,1.3321,1.3282],"format":".5f","labelFontSize":6.2,"labelBaseline":"middle","labelOverlap":false,"labelFlush":false,"labelBound":false,"labelPadding":1,"tickSize":3,"domainColor":"#c0c0c0","tickColor":"#c0c0c0","labelColor":{"condition":{"test":"abs(datum.value-1.35568)<0.000001","value":"#000000"},"value":"#c8c8c8"}}}}},
{"data":{"values":[{}]},"mark":{"type":"text","align":"left","baseline":"middle","fontSize":6,"color":"#ffffff","text":"▼"},
 "encoding":{
  "x":{"datum":0.5,"type":"quantitative","title":null,"scale":{"domain":[-0.2,121.6],"nice":false,"zero":false,"padding":0},
   "axis":{"orient":"bottom","zindex":1,"title":null,"grid":false,"values":[0,8,16,24,32,40,48,56,64,72,80,88],"labelExpr":"['11 Oct 2013','21 Oct 2013','30 Oct 2013','8 Nov 2013','18 Nov 2013','27 Nov 2013','6 Dec 2013','16 Dec 2013','25 Dec 2013','3 Jan 2014','13 Jan 2014','22 Jan 2014'][round(datum.value/8)]","labelAlign":"left","labelBaseline":"top","labelPadding":0,"labelOffset":1,"tickSize":3,"labelFontSize":6,"labelColor":"#c8c8c8","tickColor":"#c0c0c0","domainColor":"#c0c0c0","labelFlush":false,"labelOverlap":false,"labelBound":false}},
  "y":{"datum":1.39013,"type":"quantitative","title":null,"scale":{"domain":[1.328,1.3913],"nice":false,"zero":false,"padding":0},
   "axis":{"orient":"right","zindex":1,"title":null,"grid":false,"values":[1.3872,1.3832,1.3793,1.3754,1.3714,1.3675,1.3636,1.3596,1.35568,1.3518,1.3478,1.3439,1.34,1.3361,1.3321,1.3282],"format":".5f","labelFontSize":6.2,"labelBaseline":"middle","labelOverlap":false,"labelFlush":false,"labelBound":false,"labelPadding":1,"tickSize":3,"domainColor":"#c0c0c0","tickColor":"#c0c0c0","labelColor":{"condition":{"test":"abs(datum.value-1.35568)<0.000001","value":"#000000"},"value":"#c8c8c8"}}}}},
{"data":{"values":[{}]},"mark":{"type":"text","align":"right","baseline":"middle","fontSize":6.5,"color":"#c8c8c8","text":"Click-and-drag take profit and stop loss EA for multiple trades-rthien ☺"},
 "encoding":{
  "x":{"datum":120.99,"type":"quantitative","title":null,"scale":{"domain":[-0.2,121.6],"nice":false,"zero":false,"padding":0},
   "axis":{"orient":"bottom","zindex":1,"title":null,"grid":false,"values":[0,8,16,24,32,40,48,56,64,72,80,88],"labelExpr":"['11 Oct 2013','21 Oct 2013','30 Oct 2013','8 Nov 2013','18 Nov 2013','27 Nov 2013','6 Dec 2013','16 Dec 2013','25 Dec 2013','3 Jan 2014','13 Jan 2014','22 Jan 2014'][round(datum.value/8)]","labelAlign":"left","labelBaseline":"top","labelPadding":0,"labelOffset":1,"tickSize":3,"labelFontSize":6,"labelColor":"#c8c8c8","tickColor":"#c0c0c0","domainColor":"#c0c0c0","labelFlush":false,"labelOverlap":false,"labelBound":false}},
  "y":{"datum":1.38994,"type":"quantitative","title":null,"scale":{"domain":[1.328,1.3913],"nice":false,"zero":false,"padding":0},
   "axis":{"orient":"right","zindex":1,"title":null,"grid":false,"values":[1.3872,1.3832,1.3793,1.3754,1.3714,1.3675,1.3636,1.3596,1.35568,1.3518,1.3478,1.3439,1.34,1.3361,1.3321,1.3282],"format":".5f","labelFontSize":6.2,"labelBaseline":"middle","labelOverlap":false,"labelFlush":false,"labelBound":false,"labelPadding":1,"tickSize":3,"domainColor":"#c0c0c0","tickColor":"#c0c0c0","labelColor":{"condition":{"test":"abs(datum.value-1.35568)<0.000001","value":"#000000"},"value":"#c8c8c8"}}}}},
{"data":{"values":[{}]},"mark":{"type":"text","align":"right","baseline":"alphabetic","fontSize":14,"color":"#22e022","text":"1.35568"},
 "encoding":{
  "x":{"datum":120.38,"type":"quantitative","title":null,"scale":{"domain":[-0.2,121.6],"nice":false,"zero":false,"padding":0},
   "axis":{"orient":"bottom","zindex":1,"title":null,"grid":false,"values":[0,8,16,24,32,40,48,56,64,72,80,88],"labelExpr":"['11 Oct 2013','21 Oct 2013','30 Oct 2013','8 Nov 2013','18 Nov 2013','27 Nov 2013','6 Dec 2013','16 Dec 2013','25 Dec 2013','3 Jan 2014','13 Jan 2014','22 Jan 2014'][round(datum.value/8)]","labelAlign":"left","labelBaseline":"top","labelPadding":0,"labelOffset":1,"tickSize":3,"labelFontSize":6,"labelColor":"#c8c8c8","tickColor":"#c0c0c0","domainColor":"#c0c0c0","labelFlush":false,"labelOverlap":false,"labelBound":false}},
  "y":{"datum":1.38643,"type":"quantitative","title":null,"scale":{"domain":[1.328,1.3913],"nice":false,"zero":false,"padding":0},
   "axis":{"orient":"right","zindex":1,"title":null,"grid":false,"values":[1.3872,1.3832,1.3793,1.3754,1.3714,1.3675,1.3636,1.3596,1.35568,1.3518,1.3478,1.3439,1.34,1.3361,1.3321,1.3282],"format":".5f","labelFontSize":6.2,"labelBaseline":"middle","labelOverlap":false,"labelFlush":false,"labelBound":false,"labelPadding":1,"tickSize":3,"domainColor":"#c0c0c0","tickColor":"#c0c0c0","labelColor":{"condition":{"test":"abs(datum.value-1.35568)<0.000001","value":"#000000"},"value":"#c8c8c8"}}}}},
{"data":{"values":[{}]},"mark":{"type":"text","align":"right","baseline":"alphabetic","fontSize":8.5,"color":"#20b8c8","text":"Spread: 1.9"},
 "encoding":{
  "x":{"datum":120.58,"type":"quantitative","title":null,"scale":{"domain":[-0.2,121.6],"nice":false,"zero":false,"padding":0},
   "axis":{"orient":"bottom","zindex":1,"title":null,"grid":false,"values":[0,8,16,24,32,40,48,56,64,72,80,88],"labelExpr":"['11 Oct 2013','21 Oct 2013','30 Oct 2013','8 Nov 2013','18 Nov 2013','27 Nov 2013','6 Dec 2013','16 Dec 2013','25 Dec 2013','3 Jan 2014','13 Jan 2014','22 Jan 2014'][round(datum.value/8)]","labelAlign":"left","labelBaseline":"top","labelPadding":0,"labelOffset":1,"tickSize":3,"labelFontSize":6,"labelColor":"#c8c8c8","tickColor":"#c0c0c0","domainColor":"#c0c0c0","labelFlush":false,"labelOverlap":false,"labelBound":false}},
  "y":{"datum":1.38448,"type":"quantitative","title":null,"scale":{"domain":[1.328,1.3913],"nice":false,"zero":false,"padding":0},
   "axis":{"orient":"right","zindex":1,"title":null,"grid":false,"values":[1.3872,1.3832,1.3793,1.3754,1.3714,1.3675,1.3636,1.3596,1.35568,1.3518,1.3478,1.3439,1.34,1.3361,1.3321,1.3282],"format":".5f","labelFontSize":6.2,"labelBaseline":"middle","labelOverlap":false,"labelFlush":false,"labelBound":false,"labelPadding":1,"tickSize":3,"domainColor":"#c0c0c0","tickColor":"#c0c0c0","labelColor":{"condition":{"test":"abs(datum.value-1.35568)<0.000001","value":"#000000"},"value":"#c8c8c8"}}}}},
{"data":{"values":[{}]},"mark":{"type":"text","align":"left","baseline":"middle","fontSize":7,"color":"#d0d0d0","text":"IBFX, © 2001-2013, MetaQuotes Software Corp."},
 "encoding":{
  "x":{"datum":0.41,"type":"quantitative","title":null,"scale":{"domain":[-0.2,121.6],"nice":false,"zero":false,"padding":0},
   "axis":{"orient":"bottom","zindex":1,"title":null,"grid":false,"values":[0,8,16,24,32,40,48,56,64,72,80,88],"labelExpr":"['11 Oct 2013','21 Oct 2013','30 Oct 2013','8 Nov 2013','18 Nov 2013','27 Nov 2013','6 Dec 2013','16 Dec 2013','25 Dec 2013','3 Jan 2014','13 Jan 2014','22 Jan 2014'][round(datum.value/8)]","labelAlign":"left","labelBaseline":"top","labelPadding":0,"labelOffset":1,"tickSize":3,"labelFontSize":6,"labelColor":"#c8c8c8","tickColor":"#c0c0c0","domainColor":"#c0c0c0","labelFlush":false,"labelOverlap":false,"labelBound":false}},
  "y":{"datum":1.32877,"type":"quantitative","title":null,"scale":{"domain":[1.328,1.3913],"nice":false,"zero":false,"padding":0},
   "axis":{"orient":"right","zindex":1,"title":null,"grid":false,"values":[1.3872,1.3832,1.3793,1.3754,1.3714,1.3675,1.3636,1.3596,1.35568,1.3518,1.3478,1.3439,1.34,1.3361,1.3321,1.3282],"format":".5f","labelFontSize":6.2,"labelBaseline":"middle","labelOverlap":false,"labelFlush":false,"labelBound":false,"labelPadding":1,"tickSize":3,"domainColor":"#c0c0c0","tickColor":"#c0c0c0","labelColor":{"condition":{"test":"abs(datum.value-1.35568)<0.000001","value":"#000000"},"value":"#c8c8c8"}}}}}
]
}
